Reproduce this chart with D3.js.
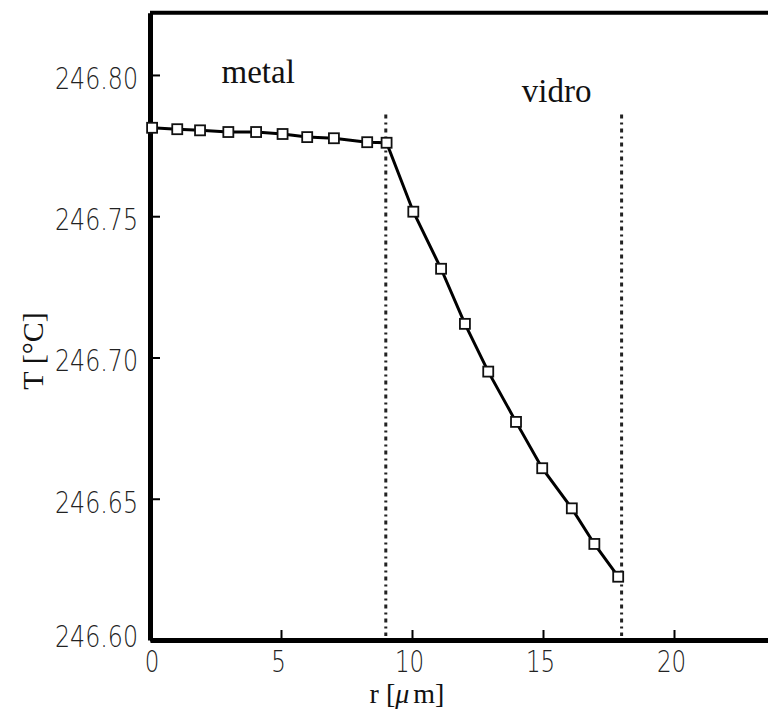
<!DOCTYPE html>
<html lang="en">
<head>
    <meta charset="UTF-8">
    <title>T vs r</title>
    <script src="https://d3js.org/d3.v7.min.js"></script>
    <style>
        html, body {
            margin: 0;
            padding: 0;
            background: white;
        }

        svg {
            display: block;
            overflow: hidden;
        }

        .tick text {
            font-family: 'DejaVu Sans', 'Liberation Sans', sans-serif;
            font-weight: 200;
            font-size: 30px;
            fill: #222;
        }

        .serif {
            font-family: 'Liberation Serif', 'Times New Roman', serif;
            fill: #111;
        }
    </style>
</head>
<body>
    <div class="content"></div>
    <script>
        // data
        const rValues = [0.08, 1.04, 1.91, 2.99, 4.05, 5.06, 6.00, 7.02, 8.29, 9.03,
            10.05, 11.11, 12.02, 12.91, 13.97, 14.97, 16.10, 16.96, 17.87];
        const tValues = [246.7813, 246.7808, 246.7804, 246.7798, 246.7798, 246.7791, 246.7780, 246.7776, 246.7762, 246.7760,
            246.7516, 246.7314, 246.7119, 246.6950, 246.6772, 246.6608, 246.6466, 246.6340, 246.6224];
        const boundaries = [9.0, 18.0];
        const boundaryTop = 246.786;
        const xTicks = [0, 5, 10, 15, 20];
        const yTicks = [246.60, 246.65, 246.70, 246.75, 246.80];
        const regionLabels = ["metal", "vidro"];
        const regionLabelPos = [[2.73, 246.797], [14.19, 246.7905]];

        const w = 768;
        const h = 713;

        const data = rValues.map((r, i) => ({ r: r, t: tValues[i] }));

        const x = d3.scaleLinear().domain([0, 25]).range([150, 805]);
        const y = d3.scaleLinear().domain([246.60, 246.822]).range([640, 12.8]);

        const svg = d3.select(".content")
            .append("svg")
            .attr("width", w)
            .attr("height", h);

        // frame top / right
        svg.append("path")
            .attr("d", `M${x(0)},${y(246.822)} H${x(25)} V${y(246.60)}`)
            .attr("fill", "none")
            .attr("stroke", "#000")
            .attr("stroke-width", 4);

        // boundary lines
        svg.selectAll("line.boundary")
            .data(boundaries)
            .enter()
            .append("line")
            .attr("class", "boundary")
            .attr("x1", d => x(d))
            .attr("x2", d => x(d))
            .attr("y1", y(boundaryTop))
            .attr("y2", y(246.60) - 4)
            .attr("stroke", "#222")
            .attr("stroke-width", 3)
            .attr("stroke-dasharray", "4,4,2,4");

        // axes
        const xAxis = d3.axisBottom(x)
            .tickValues(xTicks)
            .tickFormat(d3.format("d"))
            .tickSizeInner(-10)
            .tickSizeOuter(0)
            .tickPadding(11);

        const yAxis = d3.axisLeft(y)
            .tickValues(yTicks)
            .tickFormat(d3.format(".2f"))
            .tickSizeInner(-10)
            .tickSizeOuter(0)
            .tickPadding(12);

        const gx = svg.append("g")
            .attr("transform", `translate(0,${y(246.60)})`)
            .call(xAxis);

        const gy = svg.append("g")
            .attr("transform", `translate(${x(0)},0)`)
            .call(yAxis);

        [gx, gy].forEach(g => {
            g.attr("font-size", null).attr("font-family", null);
            g.select(".domain").attr("stroke", "#000").attr("stroke-width", 5);
            g.selectAll(".tick line").attr("stroke", "#000").attr("stroke-width", 2);
        });

        gx.selectAll(".tick text").attr("dx", d => d === 0 ? "0.05em" : "-0.1em");
        gy.selectAll(".tick text").attr("dy", d => d === 246.60 ? "0.2em" : "0.45em");

        // squeeze the tick labels (original font is narrow): about 14px per digit
        svg.selectAll(".tick text").each(function () {
            const txt = this.textContent;
            const target = txt.replace(".", "").length * 14.6 + (txt.includes(".") ? 10 : 0);
            d3.select(this)
                .attr("textLength", target)
                .attr("lengthAdjust", "spacingAndGlyphs");
        });

        // series line
        const line = d3.line()
            .x(d => x(d.r))
            .y(d => y(d.t));

        svg.append("path")
            .datum(data)
            .attr("d", line)
            .attr("fill", "none")
            .attr("stroke", "#000")
            .attr("stroke-width", 3);

        const s = 10;
        svg.selectAll("rect.marker")
            .data(data)
            .enter()
            .append("rect")
            .attr("class", "marker")
            .attr("x", d => x(d.r) - s / 2)
            .attr("y", d => y(d.t) - s / 2)
            .attr("width", s)
            .attr("height", s)
            .attr("fill", "white")
            .attr("stroke", "#111")
            .attr("stroke-width", 1.8);

        // region labels
        svg.selectAll("text.region")
            .data(regionLabels)
            .enter()
            .append("text")
            .attr("class", "region serif")
            .attr("x", (d, i) => x(regionLabelPos[i][0]))
            .attr("y", (d, i) => y(regionLabelPos[i][1]))
            .attr("font-size", "33px")
            .text(d => d);

        // axis titles
        const xTitle = svg.append("text")
            .attr("class", "serif")
            .attr("x", 407)
            .attr("y", 703)
            .attr("text-anchor", "middle")
            .attr("font-size", "28px");
        xTitle.append("tspan").text("r [");
        xTitle.append("tspan").attr("font-style", "italic").text("μ");
        xTitle.append("tspan").attr("dx", 4).text("m]");

        svg.append("text")
            .attr("class", "serif")
            .attr("transform", "translate(43,351) rotate(-90)")
            .attr("text-anchor", "middle")
            .attr("font-size", "30px")
            .text("T [°C]");
    </script>
</body>
</html>
